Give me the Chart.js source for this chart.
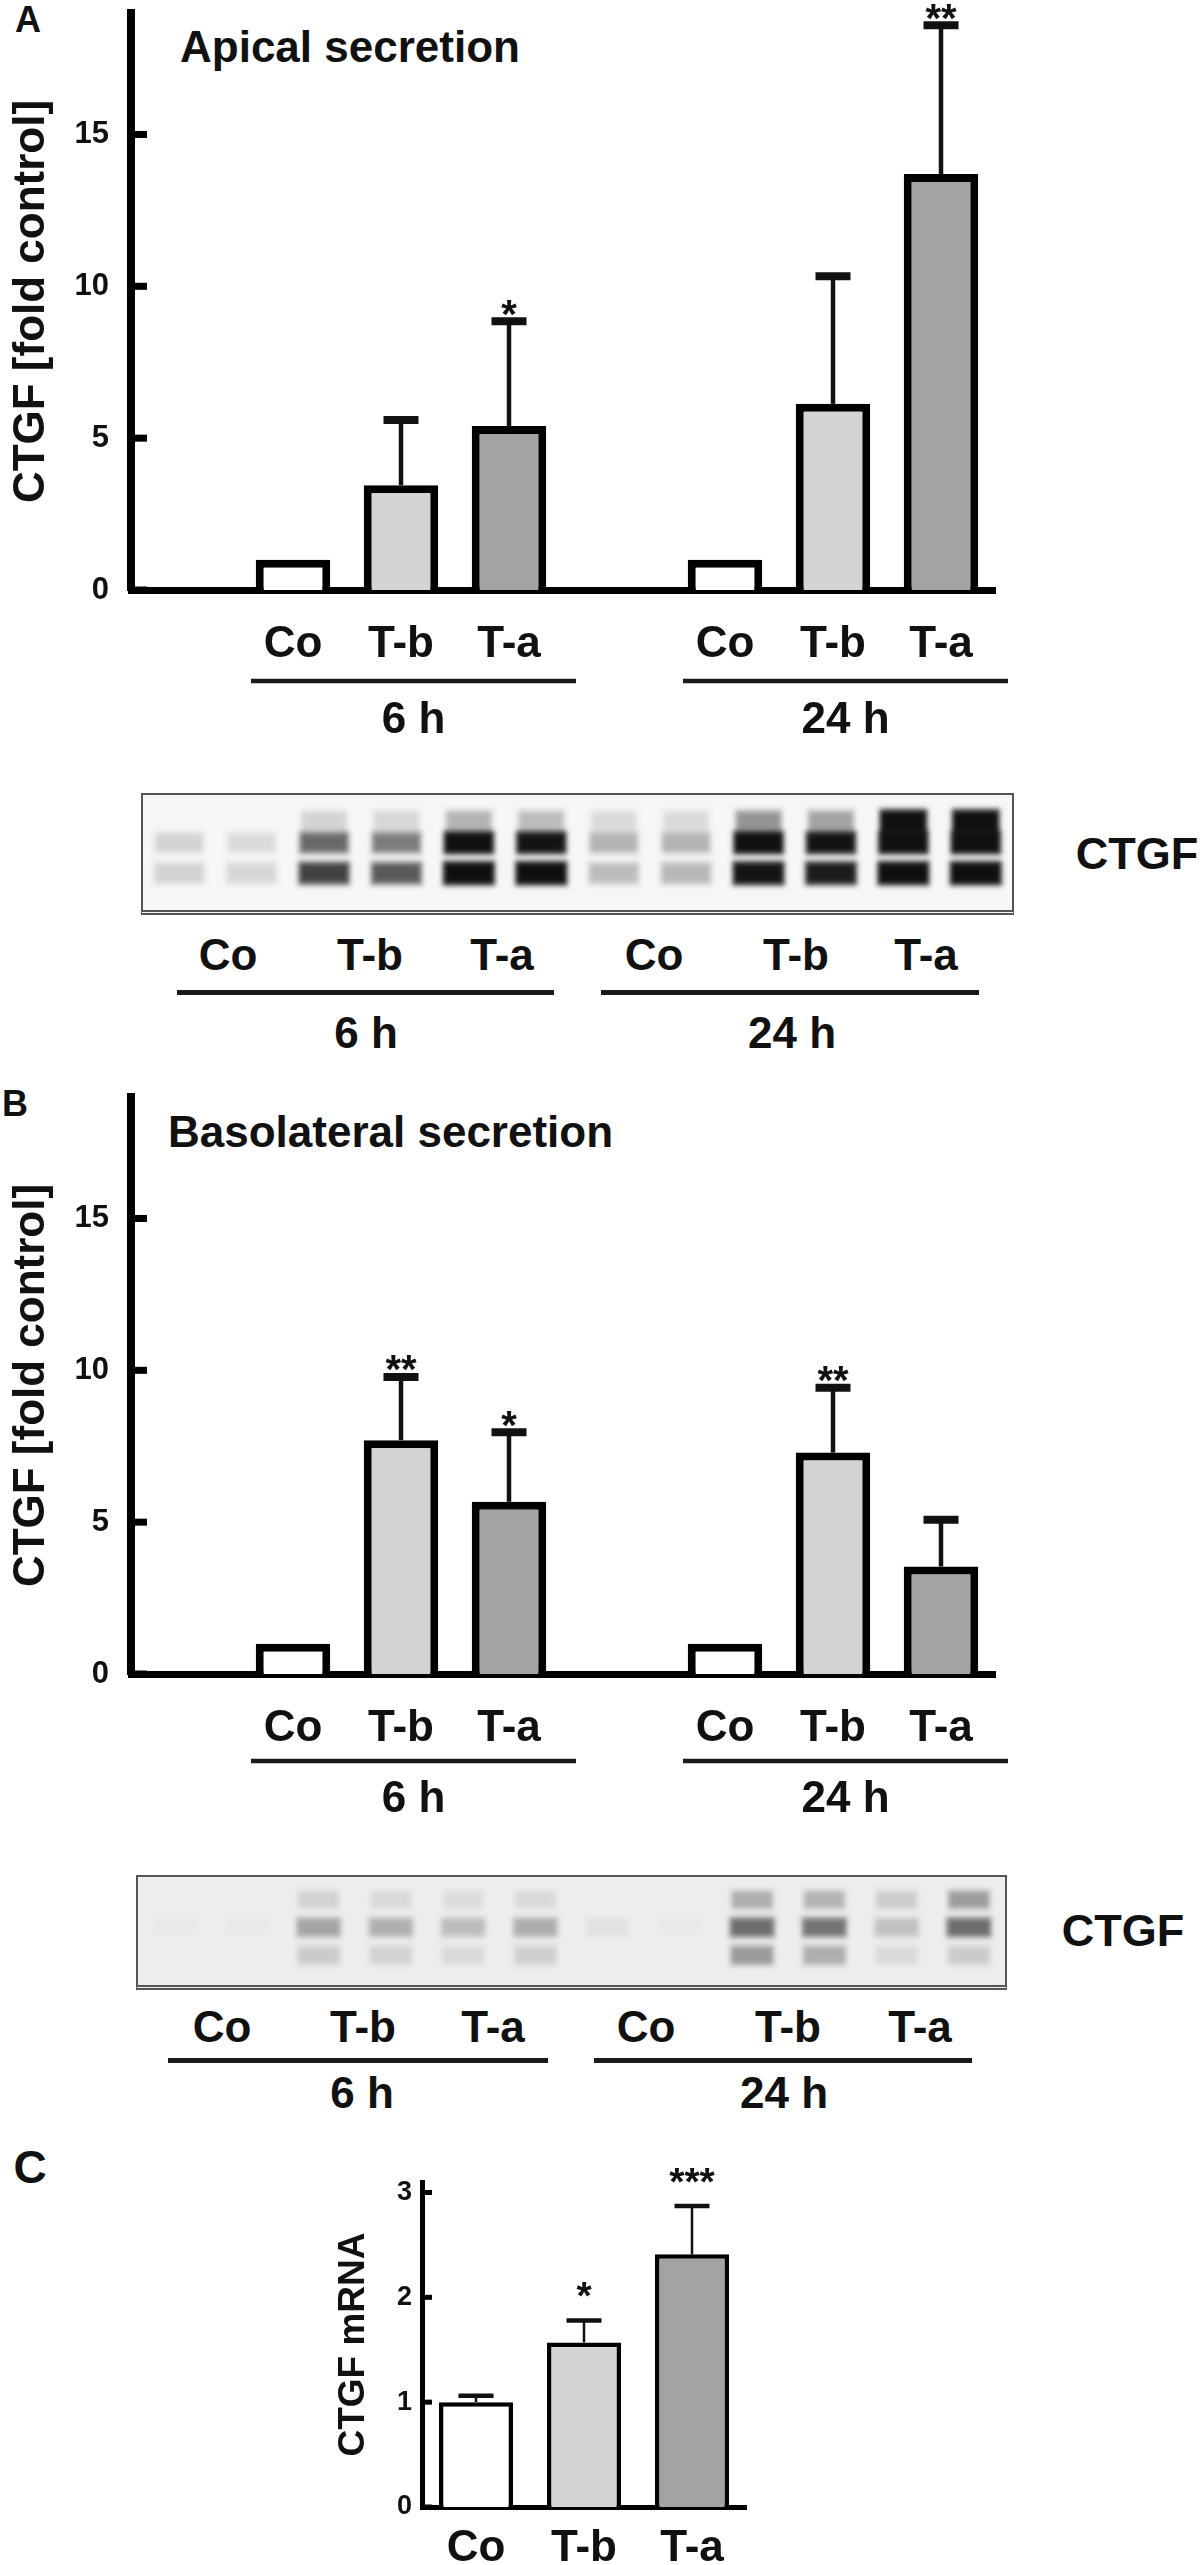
<!DOCTYPE html>
<html lang="en">
<head>
<meta charset="UTF-8">
<title>CTGF secretion and mRNA</title>
<style>
  html, body { margin: 0; padding: 0; background: #fff; }
  body { width: 1200px; height: 2565px; position: relative; overflow: hidden;
         font-family: "Liberation Sans", Arial, Helvetica, sans-serif; font-weight: bold; color: #111; }
  canvas.plot { position: absolute; }
  .t { position: absolute; transform: translate(-50%, -50%); line-height: 1; white-space: nowrap; }
  .l { position: absolute; transform: translate(0, -50%); line-height: 1; white-space: nowrap; }
  .u { position: absolute; height: 4.5px; background: #1a1a1a; }
  .blot { position: absolute; overflow: hidden; border: 2px solid #555; border-bottom: 5px double #555; }
  .blot canvas { display: block; filter: blur(2.5px); }
</style>
</head>
<body>

<!-- panel letters and headings -->
<div class="t" style="left:28px;top:20px;font-size:36px">A</div>
<div class="l" style="left:180px;top:47px;font-size:44px">Apical secretion</div>
<div class="t" style="left:15px;top:1104px;font-size:36px">B</div>
<div class="l" style="left:168px;top:1132px;font-size:44px">Basolateral secretion</div>
<div class="t" style="left:30px;top:2167px;font-size:46px">C</div>

<canvas class="plot" id="apical" width="1040" height="760" style="left:0;top:0"></canvas>

<!-- apical blot -->
<div class="blot" style="left:141px;top:793px;background:#f6f6f6"><canvas id="blotA" width="869" height="115"></canvas></div>
<div class="t" style="left:1137px;top:853px;font-size:45px">CTGF</div>
<div class="t" style="left:228px;top:955px;font-size:44px">Co</div>
<div class="t" style="left:370px;top:955px;font-size:44px">T-b</div>
<div class="t" style="left:502px;top:955px;font-size:44px">T-a</div>
<div class="t" style="left:654px;top:955px;font-size:44px">Co</div>
<div class="t" style="left:796px;top:955px;font-size:44px">T-b</div>
<div class="t" style="left:926px;top:955px;font-size:44px">T-a</div>
<div class="u" style="left:177px;top:990px;width:377px"></div>
<div class="u" style="left:601px;top:990px;width:378px"></div>
<div class="t" style="left:366px;top:1033px;font-size:44px">6 h</div>
<div class="t" style="left:792px;top:1033px;font-size:44px">24 h</div>

<canvas class="plot" id="baso" width="1040" height="760" style="left:0;top:1084px"></canvas>

<!-- basolateral blot -->
<div class="blot" style="left:136px;top:1875px;background:#ededed"><canvas id="blotB" width="867" height="108"></canvas></div>
<div class="t" style="left:1123px;top:1930px;font-size:45px">CTGF</div>
<div class="t" style="left:222px;top:2027px;font-size:44px">Co</div>
<div class="t" style="left:363px;top:2027px;font-size:44px">T-b</div>
<div class="t" style="left:493px;top:2027px;font-size:44px">T-a</div>
<div class="t" style="left:646px;top:2027px;font-size:44px">Co</div>
<div class="t" style="left:788px;top:2027px;font-size:44px">T-b</div>
<div class="t" style="left:920px;top:2027px;font-size:44px">T-a</div>
<div class="u" style="left:168px;top:2058px;width:380px"></div>
<div class="u" style="left:594px;top:2058px;width:378px"></div>
<div class="t" style="left:362px;top:2093px;font-size:44px">6 h</div>
<div class="t" style="left:784px;top:2093px;font-size:44px">24 h</div>

<canvas class="plot" id="mrna" width="490" height="405" style="left:320px;top:2160px"></canvas>

<script src="https://cdn.jsdelivr.net/npm/chart.js"></script>
<script>
// ---- data ----
const groups = ['', 'Co', 'T-b', 'T-a', '', 'Co', 'T-b', 'T-a'];
const timeGroups = ['6 h', '24 h'];

const apicalMean  = [null, 1.0, 3.45, 5.4, null, 1.0, 6.13, 13.7];
const apicalSD    = [null, 0, 2.15, 3.45, null, 0, 4.2, 4.9];
const apicalStars = ['', '', '', '*', '', '', '', '**'];

const basoMean  = [null, 1.0, 7.7, 5.67, null, 1.0, 7.29, 3.54];
const basoSD    = [null, 0, 2.08, 2.29, null, 0, 2.14, 1.54];
const basoStars = ['', '', '**', '*', '', '', '**', ''];

const mrnaGroups = ['Co', 'T-b', 'T-a'];
const mrnaMean   = [1.0, 1.57, 2.41];
const mrnaSD     = [0.06, 0.21, 0.46];
const mrnaStars  = ['', '*', '***'];

const foldTicks = [0, 5, 10, 15];
const mrnaTicks = [0, 1, 2, 3];

// western blots: 12 lanes (duplicates of Co, T-b, T-a at 6 h and 24 h), band darkness 0..1
const blotLanes = ['1', '2', '3', '4', '5', '6', '7', '8', '9', '10', '11', '12'];
const apicalBlotSmear = [0.00, 0.00, 0.14, 0.12, 0.28, 0.24, 0.10, 0.10, 0.40, 0.35, 1.00, 1.00];
const apicalBlotUpper = [0.14, 0.10, 0.60, 0.50, 0.97, 0.95, 0.28, 0.28, 0.97, 0.95, 1.00, 1.00];
const apicalBlotLower = [0.14, 0.12, 0.75, 0.65, 0.97, 0.97, 0.24, 0.26, 0.95, 0.92, 1.00, 1.00];
const basoBlotSmear = [0.00, 0.00, 0.10, 0.08, 0.06, 0.08, 0.00, 0.00, 0.28, 0.25, 0.14, 0.35];
const basoBlotMain  = [0.02, 0.02, 0.32, 0.26, 0.20, 0.28, 0.05, 0.02, 0.55, 0.52, 0.18, 0.55];
const basoBlotLower = [0.00, 0.00, 0.14, 0.10, 0.08, 0.12, 0.00, 0.00, 0.36, 0.28, 0.08, 0.14];

// ---- styling ----
const FAMILY = '"Liberation Sans", Arial, Helvetica, sans-serif';
Chart.defaults.font.family = FAMILY;
Chart.defaults.color = '#111';
const INK = '#111';
const fillFor = { '': '#ffffff', 'Co': '#ffffff', 'T-b': '#d4d4d4', 'T-a': '#a3a3a3' };

// keep the plot area where the layout padding puts it (no extra room for tick labels)
const noPadY = s => { s.paddingTop = 0; s.paddingBottom = 0; };
const noPadX = s => { s.paddingLeft = 0; s.paddingRight = 0; };

function bracketsFrom(labels) {
  const out = [];
  let start = null;
  labels.forEach((g, i) => {
    if (g === 'Co') start = i;
    if (g === 'T-a' && start !== null) { out.push({ from: start, to: i }); start = null; }
  });
  return out.map((b, k) => ({ ...b, text: timeGroups[k] }));
}

function figurePlugin(cfg) {
  return {
    id: 'figure',
    afterDatasetsDraw(chart) {
      const { ctx, scales: { y } } = chart;
      const bars = chart.getDatasetMeta(0).data;
      ctx.save();
      ctx.strokeStyle = INK;
      ctx.fillStyle = INK;
      cfg.mean.forEach((m, i) => {
        if (m == null) return;
        const cx = bars[i].x;
        const top = y.getPixelForValue(m + (cfg.sd[i] || 0));
        if (cfg.sd[i] > 0) {
          ctx.lineWidth = cfg.err.line;
          ctx.beginPath(); ctx.moveTo(cx, bars[i].y); ctx.lineTo(cx, top); ctx.stroke();
          ctx.lineWidth = cfg.err.cap;
          ctx.beginPath(); ctx.moveTo(cx - cfg.err.capLen / 2, top); ctx.lineTo(cx + cfg.err.capLen / 2, top); ctx.stroke();
        }
        if (cfg.stars[i]) {
          ctx.font = `bold ${cfg.star.size}px ${FAMILY}`;
          ctx.textAlign = 'center';
          ctx.textBaseline = 'alphabetic';
          ctx.fillText(cfg.stars[i], cx, top - cfg.star.gap + 0.56 * cfg.star.size);
        }
      });
      ctx.restore();
    },
    afterDraw(chart) {
      const { ctx, chartArea, scales: { x, y } } = chart;
      ctx.save();
      ctx.fillStyle = '#000';
      // tick marks point into the plot
      cfg.ticks.forEach(v => {
        const py = y.getPixelForValue(v);
        ctx.fillRect(chartArea.left, py - cfg.tick.width / 2, cfg.tick.len, cfg.tick.width);
      });
      // time-point underlines below the category labels
      (cfg.brackets || []).forEach(b => {
        const x1 = x.getPixelForValue(b.from) - 42;
        const x2 = x.getPixelForValue(b.to) + 67;
        ctx.fillStyle = '#1a1a1a';
        ctx.fillRect(x1, chartArea.bottom + cfg.bracket.line - 2.25, x2 - x1, 4.5);
        ctx.fillStyle = INK;
        ctx.font = `bold 44px ${FAMILY}`;
        ctx.textAlign = 'center';
        ctx.textBaseline = 'middle';
        ctx.fillText(b.text, (x1 + x2) / 2, chartArea.bottom + cfg.bracket.text);
      });
      ctx.restore();
    }
  };
}

function foldChart(id, mean, sd, stars, bracket) {
  return new Chart(document.getElementById(id), {
    type: 'bar',
    data: {
      labels: groups,
      datasets: [{
        data: mean,
        backgroundColor: groups.map(g => fillFor[g]),
        borderColor: '#000',
        borderWidth: 8,
        borderSkipped: 'bottom',
        categoryPercentage: 1,
        barPercentage: 0.69
      }]
    },
    options: {
      responsive: false,
      animation: false,
      layout: { padding: { top: 13, left: 0, right: 45, bottom: 0 } },
      plugins: { legend: { display: false }, tooltip: { enabled: false } },
      scales: {
        x: {
          z: 1,
          grid: { display: false, drawTicks: false },
          border: { display: true, color: '#000', width: 7 },
          ticks: { font: { size: 44, weight: 'bold' }, color: INK, padding: 28, autoSkip: false, maxRotation: 0 },
          afterFit: s => { s.height = 170; noPadX(s); }
        },
        y: {
          min: 0, max: 19,
          grid: { display: false, drawTicks: false },
          border: { display: true, color: '#000', width: 8 },
          ticks: { stepSize: 5, includeBounds: false, font: { size: 31, weight: 'bold' }, color: INK, padding: 22 },
          title: { display: true, text: 'CTGF [fold control]', font: { size: 44, weight: 'bold' }, color: INK, padding: { top: 5, bottom: 0 } },
          afterFit: s => { s.width = 131; noPadY(s); }
        }
      }
    },
    plugins: [figurePlugin({
      mean, sd, stars,
      ticks: foldTicks,
      err: { line: 4.5, cap: 8, capLen: 35 },
      star: { size: 40, gap: 16 },
      tick: { len: 16, width: 7 },
      brackets: bracketsFrom(groups),
      bracket
    })]
  });
}

foldChart('apical', apicalMean, apicalSD, apicalStars, { line: 91, text: 131 });
foldChart('baso', basoMean, basoSD, basoStars, { line: 87, text: 126 });

new Chart(document.getElementById('mrna'), {
  type: 'bar',
  data: {
    labels: mrnaGroups,
    datasets: [{
      data: mrnaMean,
      backgroundColor: mrnaGroups.map(g => fillFor[g]),
      borderColor: '#000',
      borderWidth: 4.5,
      borderSkipped: 'bottom',
      categoryPercentage: 1,
      barPercentage: 0.685
    }]
  },
  options: {
    responsive: false,
    animation: false,
    layout: { padding: { top: 22, left: 0, right: 64, bottom: 0 } },
    plugins: { legend: { display: false }, tooltip: { enabled: false } },
    scales: {
      x: {
        z: 1,
        grid: { display: false, drawTicks: false },
        border: { display: true, color: '#000', width: 5 },
        ticks: { font: { size: 44, weight: 'bold' }, color: INK, padding: 15, autoSkip: false, maxRotation: 0 },
        afterFit: s => { s.height = 58; noPadX(s); }
      },
      y: {
        min: 0, max: 3.1,
        grid: { display: false, drawTicks: false },
        border: { display: true, color: '#000', width: 5 },
        ticks: { stepSize: 1, includeBounds: false, font: { size: 27, weight: 'bold' }, color: INK, padding: 10 },
        title: { display: true, text: 'CTGF mRNA', font: { size: 37, weight: 'bold' }, color: INK, padding: { top: 12, bottom: 0 } },
        afterFit: s => { s.width = 102; noPadY(s); }
      }
    }
  },
  plugins: [figurePlugin({
    mean: mrnaMean, sd: mrnaSD, stars: mrnaStars,
    ticks: mrnaTicks,
    err: { line: 2.5, cap: 4.5, capLen: 35 },
    star: { size: 39, gap: 33 },
    tick: { len: 10, width: 5 }
  })]
});

// ---- blots: each band row is drawn as a few nested floating bars whose
// opacity comes from the band darkness, which gives the bands soft edges ----
const LAYERS = 4;
function bandLayers(r) {
  return Array.from({ length: LAYERS }, (_, j) => {
    const grow = LAYERS - 1 - j;               // outer layers are larger
    const a = r.level.map(v => 1 - Math.pow(1 - Math.min(v, 0.97), 1 / LAYERS));
    return {
      data: blotLanes.map(() => [r.span[0] - grow * 0.014, r.span[1] + grow * 0.014]),
      backgroundColor: a.map(v => `rgba(8,8,8,${v.toFixed(3)})`),
      borderWidth: 0,
      grouped: false,
      categoryPercentage: 1,
      barPercentage: r.width + grow * 0.03
    };
  });
}

function blotPlugin(bg) {
  return {
    id: 'blot',
    beforeDraw(chart) {
      const { ctx, width, height } = chart;
      ctx.save();
      ctx.fillStyle = bg;
      ctx.fillRect(0, 0, width, height);
      ctx.restore();
    }
  };
}

function blotChart(id, rows, bg) {
  return new Chart(document.getElementById(id), {
    type: 'bar',
    data: { labels: blotLanes, datasets: rows.flatMap(bandLayers) },
    options: {
      responsive: false,
      animation: false,
      layout: { padding: 0 },
      plugins: { legend: { display: false }, tooltip: { enabled: false } },
      scales: { x: { display: false }, y: { display: false, min: 0, max: 1 } }
    },
    plugins: [blotPlugin(bg)]
  });
}

blotChart('blotA', [
  { span: [0.70, 0.84], level: apicalBlotSmear, width: 0.58 },
  { span: [0.52, 0.65], level: apicalBlotUpper, width: 0.62 },
  { span: [0.25, 0.39], level: apicalBlotLower, width: 0.64 }
], '#f6f6f6');

blotChart('blotB', [
  { span: [0.73, 0.85], level: basoBlotSmear, width: 0.52 },
  { span: [0.47, 0.60], level: basoBlotMain, width: 0.56 },
  { span: [0.21, 0.34], level: basoBlotLower, width: 0.54 }
], '#ededed');
</script>
</body>
</html>
